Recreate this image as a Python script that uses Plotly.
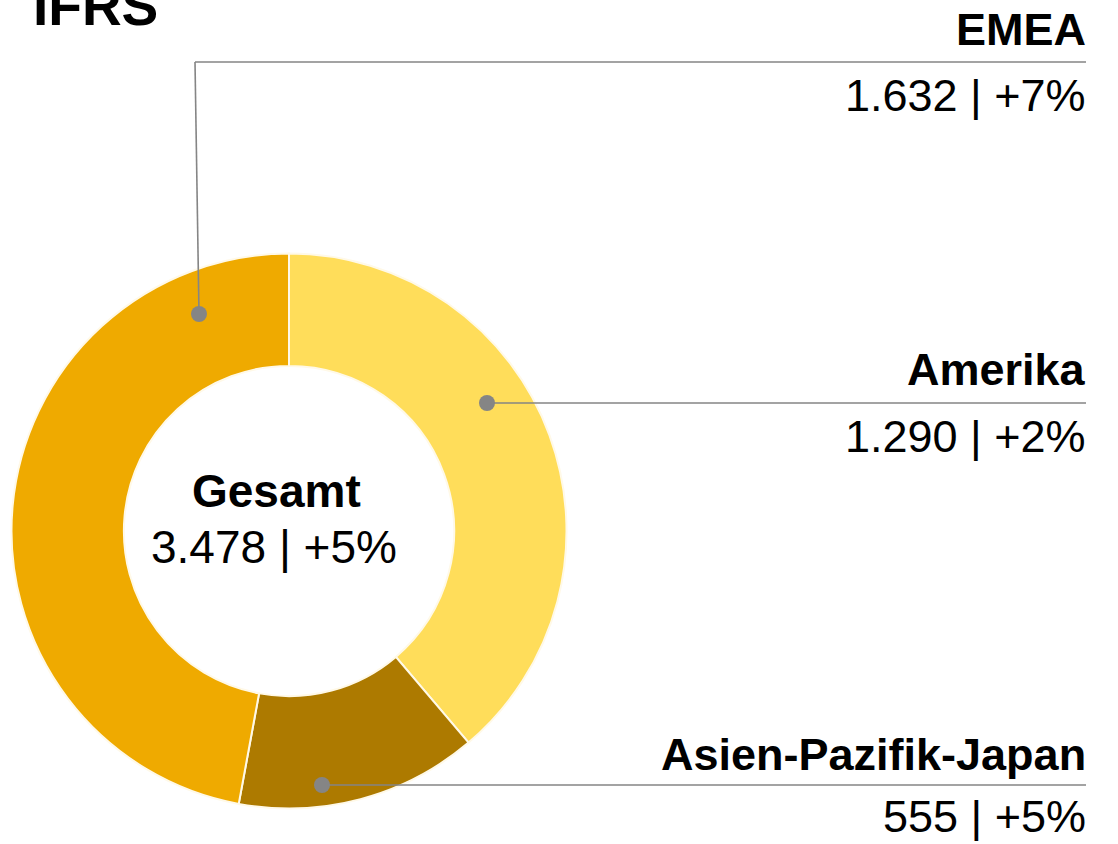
import plotly.graph_objects as go

W, H = 1118, 844

# ---- data ----
regions = ["Amerika", "Asien-Pazifik-Japan", "EMEA"]
revenue_labels = ["1.290 | +2%", "555 | +5%", "1.632 | +7%"]
# slice sizes as drawn in the picture (share of the ring, %)
slice_share = [38.8, 14.1, 47.1]
colors = ["#FFDD5A", "#AD7A00", "#EFAA00"]
title_text = "IFRS"
total_title = "Gesamt"
total_label = "3.478 | +5%"

FONT = "Liberation Sans, Arial, sans-serif"
LINE_COL = "#858585"


def px(x):
    return x / W


def py(y):
    return (H - y) / H


# donut geometry (pixels)
cx, cy, R = 289, 531, 277.5

fig = go.Figure()
fig.add_trace(go.Pie(
    labels=regions,
    values=slice_share,
    sort=False,
    direction="clockwise",
    rotation=0,
    hole=0.595,
    marker=dict(colors=colors, line=dict(color="#FFF9E8", width=2)),
    textinfo="none",
    hoverinfo="label",
    domain=dict(x=[px(cx - R), px(cx + R)], y=[py(cy + R), py(cy - R)]),
    showlegend=False,
))

shapes = []
annotations = []

leaders = {
    "EMEA": dict(dot=(199, 314), elbow=(195, 62), name_y=29, val_y=95),
    "Amerika": dict(dot=(487, 403), elbow=None, name_y=369, val_y=437),
    "Asien-Pazifik-Japan": dict(dot=(322, 785), elbow=None, name_y=754, val_y=816),
}
right_x = 1086

for i, reg in enumerate(regions):
    L = leaders[reg]
    dx, dy = L["dot"]
    if L["elbow"] is not None:
        ex, ey = L["elbow"]
        shapes.append(dict(type="line", xref="paper", yref="paper",
                           x0=px(dx), y0=py(dy), x1=px(ex), y1=py(ey),
                           line=dict(color=LINE_COL, width=1.6)))
        shapes.append(dict(type="line", xref="paper", yref="paper",
                           x0=px(ex), y0=py(ey), x1=px(right_x), y1=py(ey),
                           line=dict(color=LINE_COL, width=1.6)))
    else:
        shapes.append(dict(type="line", xref="paper", yref="paper",
                           x0=px(dx), y0=py(dy), x1=px(right_x), y1=py(dy),
                           line=dict(color=LINE_COL, width=1.6)))
    r = 8
    shapes.append(dict(type="circle", xref="paper", yref="paper",
                       x0=px(dx - r), x1=px(dx + r), y0=py(dy + r), y1=py(dy - r),
                       fillcolor=LINE_COL, line=dict(width=0)))
    annotations.append(dict(text=f"<b>{reg}</b>", xref="paper", yref="paper",
                            x=px(right_x + 2), y=py(L["name_y"]),
                            xanchor="right", yanchor="middle", showarrow=False,
                            font=dict(family=FONT, size=45, color="#000000")))
    annotations.append(dict(text=revenue_labels[i], xref="paper", yref="paper",
                            x=px(right_x + 2), y=py(L["val_y"]),
                            xanchor="right", yanchor="middle", showarrow=False,
                            font=dict(family=FONT, size=45, color="#000000")))

# centre text
annotations.append(dict(text=f"<b>{total_title}</b>", xref="paper", yref="paper",
                        x=px(276), y=py(491), xanchor="center", yanchor="middle",
                        showarrow=False, font=dict(family=FONT, size=46, color="#000000")))
annotations.append(dict(text=total_label, xref="paper", yref="paper",
                        x=px(274), y=py(547), xanchor="center", yanchor="middle",
                        showarrow=False, font=dict(family=FONT, size=46, color="#000000")))

# title (cut off at the top, as in the reference)
annotations.append(dict(text=f"<b>{title_text}</b>", xref="paper", yref="paper",
                        x=px(31), y=py(6), xanchor="left", yanchor="middle",
                        showarrow=False, font=dict(family=FONT, size=55, color="#000000")))

fig.update_layout(
    width=W, height=H,
    margin=dict(l=0, r=0, t=0, b=0),
    paper_bgcolor="white", plot_bgcolor="white",
    shapes=shapes, annotations=annotations,
)

fig.write_html("out.html", config={"displayModeBar": False},
               post_script="document.body.style.margin='0px';document.body.style.overflow='hidden';")
